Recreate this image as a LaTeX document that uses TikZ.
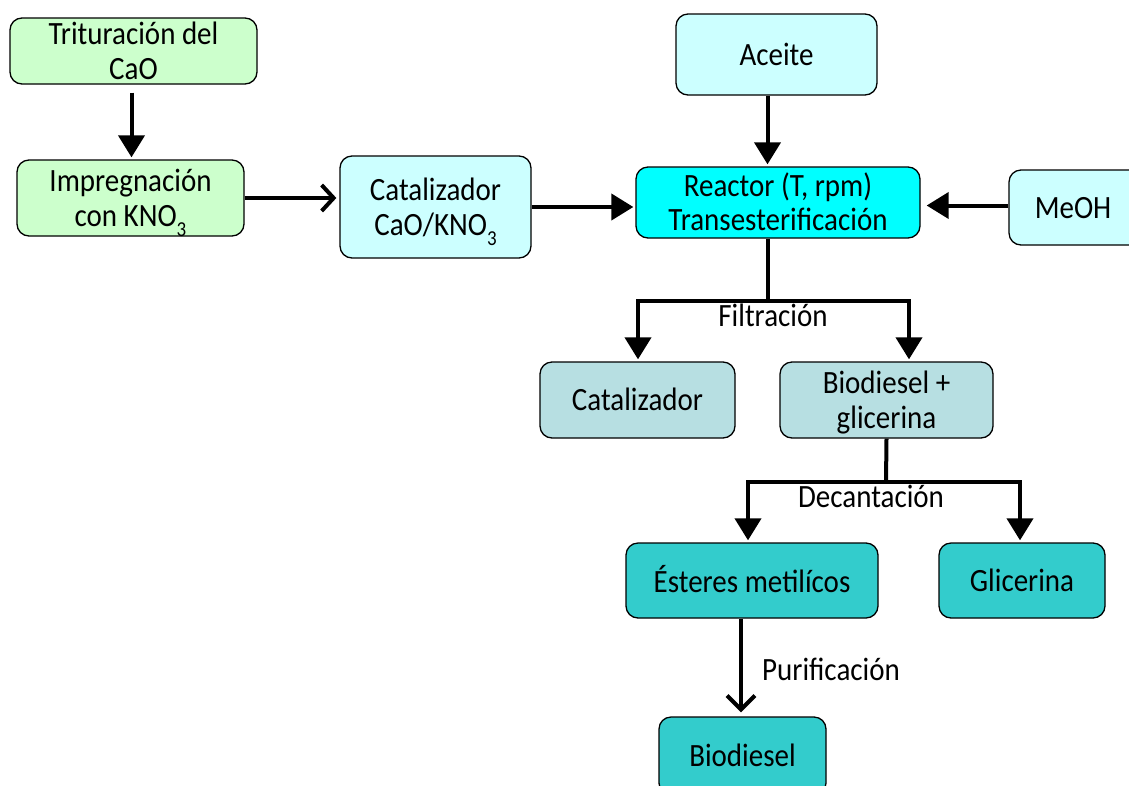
\documentclass[tikz,border=0pt]{standalone}
\usepackage{fontspec}
\setmainfont{Carlito}
\usetikzlibrary{arrows.meta,calc}
\definecolor{cgreen}{HTML}{CCFFCC}
\definecolor{clight}{HTML}{CCFFFF}
\definecolor{ccyan}{HTML}{00FFFF}
\definecolor{cgrey}{HTML}{B7DFE2}
\definecolor{cteal}{HTML}{33CCCC}
\newcommand{\sub}[1]{\raisebox{-0.3em}{\fontsize{19}{19}\selectfont #1}}
\newcommand{\T}[1]{\raisebox{0pt}[\height][\dimexpr\depth-8pt\relax]{\scalebox{1}[1.12]{\fontsize{29}{31}\selectfont\begin{tabular}{@{}c@{}}#1\end{tabular}}}}
\begin{document}
\begin{tikzpicture}[x=1pt,y=-1pt,
  box/.style={draw=black, line width=1.3pt, rounded corners=12pt, align=center,
    inner sep=0pt},
  lbl/.style={inner sep=0pt},
  conn/.style={line width=4pt},
  arr/.style={line width=4pt, -{Triangle[length=22pt,width=26pt]}},
  oarr/.style={line width=4pt, -{Straight Barb[length=12pt,width=26pt]}}]
\clip (0,0) rectangle (1129,785);
\fill[white] (0,0) rectangle (1129,785);

\node[box, fill=cgreen, minimum width=247pt, minimum height=66pt] (trit) at (133.5,51) {\T{Trituración del\\CaO}};
\node[box, fill=cgreen, minimum width=227pt, minimum height=76pt] (impr) at (130.5,198) {\T{Impregnación\\con KNO\sub{3}}};
\node[box, fill=clight, minimum width=191pt, minimum height=102pt] (cat1) at (435.5,207) {\T{Catalizador\\CaO/KNO\sub{3}}};
\node[box, fill=clight, minimum width=201pt, minimum height=81pt] (aceite) at (776.5,54.5) {\T{Aceite}};
\node[box, fill=ccyan, minimum width=284pt, minimum height=71pt] (reactor) at (778,202.5) {\T{Reactor (T, rpm)\\Transesterificación}};
\node[box, fill=clight, minimum width=150pt, minimum height=75pt, text width=130pt] (meoh) at (1084,207.5) {\hspace*{-22pt}\T{MeOH}};
\node[box, fill=cgrey, minimum width=195pt, minimum height=76pt] (cat2) at (637.5,400) {\T{Catalizador}};
\node[box, fill=cgrey, minimum width=213pt, minimum height=76pt] (biog) at (886.5,400) {\T{Biodiesel +\\glicerina}};
\node[box, fill=cteal, minimum width=252pt, minimum height=75pt] (ester) at (752,580.5) {\T{Ésteres metilícos}};
\node[box, fill=cteal, minimum width=166pt, minimum height=75pt] (glic) at (1022,580.5) {\T{Glicerina}};
\node[box, fill=cteal, minimum width=167pt, minimum height=78pt] (biod) at (742.5,756) {\T{Biodiesel}};

% connectors
\draw[arr, shorten <=8pt, shorten >=2pt] ([xshift=-2pt]trit.south) -- ([xshift=-2pt]trit.south |- impr.north);
\draw[oarr, shorten >=3pt] (impr.east) -- (impr.east -| cat1.west);
\draw[arr, shorten >=2pt] (cat1.east) -- (cat1.east -| reactor.west);
\draw[arr, shorten >=2pt] ([xshift=-9pt]aceite.south) -- ([xshift=-9pt]aceite.south |- reactor.north);
\draw[arr, shorten >=6pt] ([yshift=2pt]meoh.west) -- ([yshift=2pt]meoh.west -| reactor.east);

\coordinate (f) at (768,301);
\coordinate (fl) at (638,301);
\coordinate (fr) at (909,301);
\draw[conn] ([xshift=-10pt]reactor.south) -- (f);
\draw[conn, line cap=rect] (fl) -- (fr);
\draw[arr, shorten >=2pt] (fl) -- (fl |- cat2.north);
\draw[arr, shorten >=2pt] (fr) -- (fr |- biog.north);
\node[lbl] (filt) at (773,316) {\T{Filtración}};

\coordinate (d) at (886,482);
\coordinate (dl) at (748,482);
\coordinate (dr) at (1020,482);
\draw[conn] (biog.south) -- (d);
\draw[conn, line cap=rect] (dl) -- (dr);
\draw[arr, shorten >=2pt] (dl) -- (dl |- ester.north);
\draw[arr, shorten >=2pt] (dr) -- (dr |- glic.north);
\node[lbl] (dec) at (871,497) {\T{Decantación}};

\draw[line width=4pt, -{Straight Barb[length=14pt,width=28pt]}, shorten >=4pt] ([xshift=-1.5pt]biod.north |- ester.south) -- ([xshift=-1.5pt]biod.north);
\node[lbl] (pur) at (831,670) {\T{Purificación}};
\end{tikzpicture}
\end{document}
